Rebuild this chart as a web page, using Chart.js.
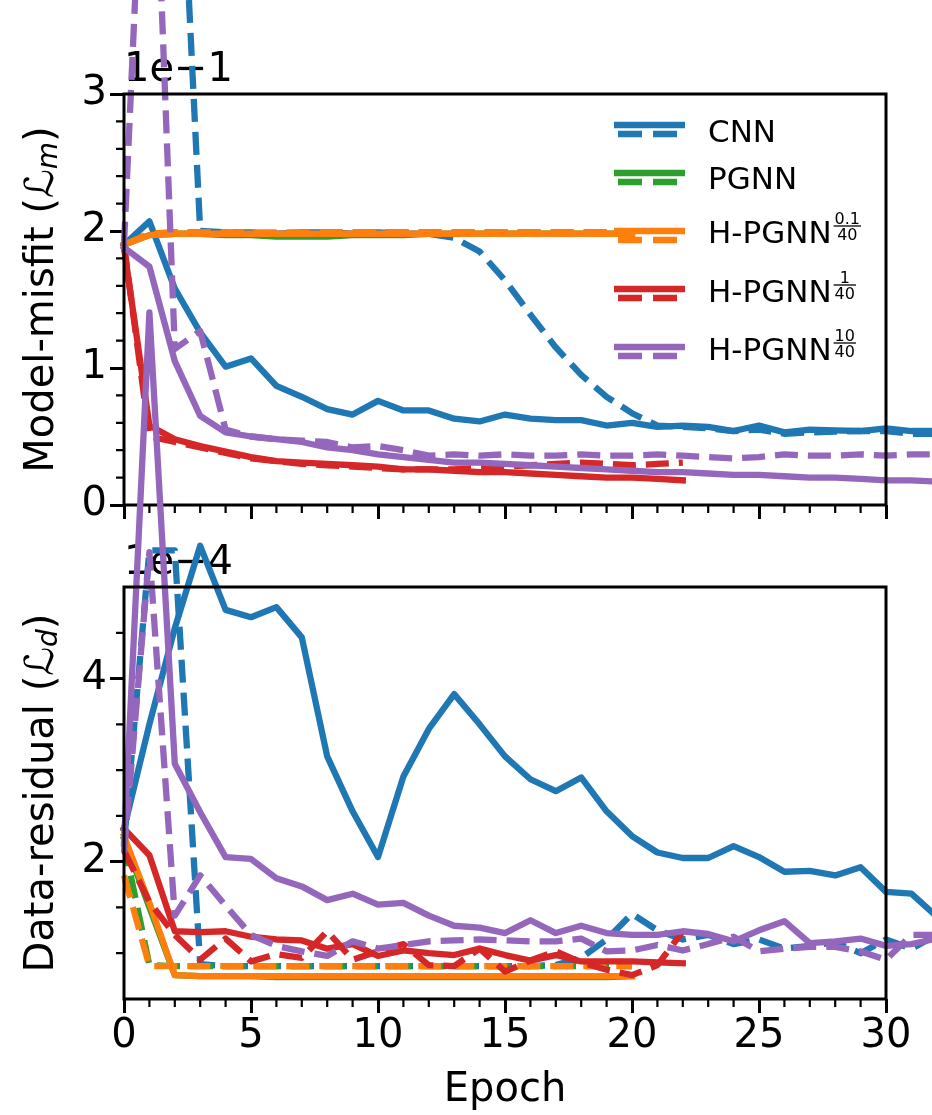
<!DOCTYPE html>
<html>
<head>
<meta charset="utf-8">
<script src="https://cdn.jsdelivr.net/npm/chart.js@4.4.1/dist/chart.umd.min.js"></script>
<style>
  html, body { margin: 0; padding: 0; background: #fff; }
  #wrap { position: relative; width: 932px; height: 1115px; overflow: hidden; }
  #wrap canvas { position: absolute; left: 0; top: 0; }
</style>
</head>
<body>
<div id="wrap">
  <canvas id="misfitChart" width="932" height="1115"></canvas>
  <canvas id="residualChart" width="932" height="1115"></canvas>
</div>
<script>
// epochs shared by both panels
const epochs = [0, 1, 2, 3, 4, 5, 6, 7, 8, 9, 10, 11, 12, 13, 14, 15, 16, 17, 18, 19, 20,
                21, 22, 23, 24, 25, 26, 27, 28, 29, 30, 31, 32];
const epochRange = [0, 30];
const epochTicks = [0, 5, 10, 15, 20, 25, 30];

// model-misfit (x 1e-1), solid and dashed curves
const cnnMisfit = [1.90, 2.07, 1.58, 1.26, 1.01, 1.07, 0.87, 0.79, 0.70, 0.66, 0.76, 0.69, 0.69, 0.63, 0.61, 0.66, 0.63,
                   0.62, 0.62, 0.58, 0.60, 0.57, 0.58, 0.57, 0.54, 0.58, 0.53, 0.55, 0.545, 0.54, 0.56, 0.54, 0.54];
const cnnMisfitDashed = [7.0, 6.4, 5.8, 2.00, 1.99, 1.99, 1.98, 1.99, 1.99, 1.98, 1.99, 1.98, 1.98, 1.95, 1.85, 1.64, 1.39,
                         1.15, 0.95, 0.79, 0.67, 0.58, 0.57, 0.56, 0.54, 0.55, 0.52, 0.53, 0.535, 0.54, 0.54, 0.52, 0.52];
const pgnnMisfit = [1.90, 1.97, 1.98, 1.98, 1.97, 1.97, 1.96, 1.96, 1.96, 1.97, 1.97, 1.97, 1.98, 1.98, 1.98, 1.98, 1.98,
                    1.98, 1.98, 1.98, 1.98];
const pgnnMisfitDashed = [1.90, 1.98, 1.99, 1.99, 1.99, 1.98, 1.98, 1.99, 1.99, 1.99, 1.99, 1.99, 1.99, 1.99, 1.99, 1.99,
                          1.99, 1.99, 1.99, 1.99, 1.99];
const hp01Misfit = [1.90, 1.97, 1.98, 1.98, 1.98, 1.98, 1.98, 1.98, 1.98, 1.98, 1.98, 1.98, 1.98, 1.98, 1.98, 1.98, 1.98,
                    1.98, 1.98, 1.98, 1.98];
const hp01MisfitDashed = [1.90, 1.98, 1.99, 1.99, 1.99, 1.99, 1.99, 1.99, 1.99, 1.99, 1.99, 1.99, 1.99, 1.99, 1.99, 1.99,
                          1.99, 1.99, 1.99, 1.99, 1.99];
const hp1Misfit = [1.88, 0.58, 0.48, 0.43, 0.39, 0.35, 0.32, 0.31, 0.30, 0.29, 0.28, 0.26, 0.26, 0.25, 0.24, 0.24, 0.23,
                   0.22, 0.21, 0.20, 0.20, 0.19, 0.18];
const hp1MisfitDashed = [1.90, 0.50, 0.46, 0.42, 0.38, 0.34, 0.32, 0.30, 0.29, 0.28, 0.27, 0.26, 0.26, 0.26, 0.27, 0.28,
                         0.29, 0.30, 0.31, 0.30, 0.29, 0.30, 0.31];
const hp10Misfit = [1.88, 1.74, 1.05, 0.65, 0.53, 0.50, 0.48, 0.46, 0.42, 0.40, 0.37, 0.35, 0.33, 0.31, 0.31, 0.30, 0.29,
                    0.28, 0.27, 0.26, 0.25, 0.24, 0.24, 0.23, 0.22, 0.22, 0.21, 0.20, 0.20, 0.19, 0.18, 0.18, 0.17];
const hp10MisfitDashed = [1.90, 6.0, 1.14, 1.27, 0.55, 0.50, 0.48, 0.47, 0.46, 0.42, 0.43, 0.40, 0.36, 0.37, 0.36, 0.37,
                          0.36, 0.36, 0.37, 0.36, 0.36, 0.37, 0.36, 0.35, 0.34, 0.35, 0.37, 0.36, 0.36, 0.37, 0.36, 0.37, 0.37];

// data-residual (x 1e-4), solid and dashed curves
const cnnResidual = [2.36, 3.5, 4.55, 5.45, 4.75, 4.67, 4.78, 4.45, 3.15, 2.55, 2.05, 2.93, 3.45, 3.83, 3.5, 3.15, 2.9,
                     2.77, 2.92, 2.55, 2.28, 2.1, 2.04, 2.04, 2.17, 2.05, 1.89, 1.9, 1.85, 1.94, 1.67, 1.65, 1.4];
const cnnResidualDashed = [2.2, 5.4, 5.4, 0.88, 0.86, 0.86, 0.86, 0.86, 0.86, 0.86, 0.86, 0.86, 0.86, 0.86, 0.86, 0.86,
                           0.86, 0.87, 0.95, 1.15, 1.43, 1.25, 1.15, 1.2, 1.1, 1.15, 1.05, 1.08, 1.12, 1.0, 1.15, 1.05, 1.2];
const pgnnResidual = [2.25, 1.5, 0.76, 0.75, 0.75, 0.75, 0.74, 0.74, 0.74, 0.74, 0.74, 0.74, 0.74, 0.74, 0.74, 0.74, 0.74,
                      0.74, 0.74, 0.74, 0.75];
const pgnnResidualDashed = [2.2, 0.87, 0.86, 0.86, 0.86, 0.86, 0.86, 0.86, 0.86, 0.86, 0.86, 0.86, 0.86, 0.86, 0.86, 0.86,
                            0.86, 0.86, 0.86, 0.86, 0.86];
const hp01Residual = [2.28, 1.55, 0.76, 0.75, 0.75, 0.75, 0.75, 0.75, 0.75, 0.75, 0.75, 0.75, 0.75, 0.75, 0.75, 0.75, 0.75,
                      0.75, 0.75, 0.75, 0.75];
const hp01ResidualDashed = [1.85, 0.86, 0.86, 0.86, 0.86, 0.86, 0.86, 0.86, 0.86, 0.86, 0.86, 0.86, 0.86, 0.86, 0.86, 0.86,
                            0.86, 0.86, 0.86, 0.86, 0.86];
const hp1Residual = [2.36, 2.07, 1.24, 1.23, 1.24, 1.18, 1.15, 1.14, 1.05, 1.1, 0.97, 1.03, 1.0, 0.98, 1.05, 0.98, 0.92,
                     0.98, 0.91, 0.91, 0.91, 0.9, 0.89];
const hp1ResidualDashed = [2.12, 1.56, 1.2, 0.93, 1.16, 0.91, 0.99, 0.95, 1.24, 0.93, 1.02, 1.1, 0.87, 0.86, 1.05, 0.8,
                           0.92, 1.02, 0.9, 0.82, 0.76, 0.87, 1.24];
const hp10Residual = [2.2, 8.0, 3.07, 2.54, 2.05, 2.03, 1.82, 1.73, 1.58, 1.65, 1.53, 1.55, 1.41, 1.3, 1.28, 1.22, 1.36,
                      1.22, 1.3, 1.22, 1.2, 1.2, 1.24, 1.21, 1.13, 1.25, 1.35, 1.11, 1.13, 1.16, 1.08, 1.1, 1.16];
const hp10ResidualDashed = [2.1, 5.38, 1.41, 1.85, 1.52, 1.2, 1.08, 1.02, 0.97, 1.13, 1.05, 1.09, 1.13, 1.14, 1.15, 1.14,
                            1.13, 1.13, 1.16, 1.02, 1.03, 1.09, 1.03, 1.1, 1.18, 1.02, 1.05, 1.07, 1.07, 1.02, 0.93, 1.2, 1.2];

// axis ticks
const misfitTicks = [0, 1, 2, 3];
const misfitMinorTicks = [0.2, 0.4, 0.6, 0.8, 1.2, 1.4, 1.6, 1.8, 2.2, 2.4, 2.6, 2.8];
const residualTicks = [2, 4];
const residualMinorTicks = [1, 1.5, 2.5, 3, 3.5, 4.5];

// legend
const modelNames = ['CNN', 'PGNN', 'H-PGNN', 'H-PGNN', 'H-PGNN'];
const modelFractions = [null, null, ['0.1', '40'], ['1', '40'], ['10', '40']];
const modelColors = ['#1f77b4', '#2ca02c', '#ff7f0e', '#d62728', '#9467bd'];

const FONT = "'DejaVu Sans', sans-serif";
const LINE_W = 6.3;
const DASH = [23, 10];

function buildDatasets(solid, dashed) {
    const out = [];
    solid.forEach((vals, m) => {
        [vals, dashed[m]].forEach((series, k) => {
            out.push({
                data: series.map((v, i) => ({ x: epochs[i], y: v })),
                borderColor: modelColors[m],
                borderWidth: LINE_W,
                borderDash: k ? DASH : [],
                borderCapStyle: k ? 'butt' : 'square',
                borderJoinStyle: 'round',
                pointRadius: 0,
                tension: 0,
                fill: false,
                clip: false
            });
        });
    });
    // later series drawn on top
    out.forEach((ds, i) => { ds.order = out.length - i; });
    return out;
}

function tickGrid() {
    return { drawOnChartArea: false, drawTicks: true, tickLength: 14, tickWidth: 3, tickColor: '#000' };
}

function xScale(withLabels, boxHeight) {
    return {
        type: 'linear',
        bounds: 'data',
        afterDataLimits: s => { s.min = epochRange[0]; s.max = epochRange[1]; },
        afterBuildTicks: s => { s.ticks = epochTicks.map(v => ({ value: v })); },
        afterFit: s => { s.height = boxHeight; },
        grid: tickGrid(),
        border: { display: false },
        ticks: {
            color: '#000', font: { family: FONT, size: 40 }, padding: 0,
            maxRotation: 0, autoSkip: false,
            callback: v => withLabels ? String(v) : ''
        },
        title: {
            display: withLabels, text: 'Epoch', color: '#000',
            font: { family: FONT, size: 40 }, padding: 0
        }
    };
}

function yScale(min, max, ticks) {
    return {
        type: 'linear',
        min: min,
        max: max,
        afterBuildTicks: s => { s.ticks = ticks.map(v => ({ value: v })); },
        afterFit: s => { s.width = 124; },
        grid: tickGrid(),
        border: { display: false },
        ticks: { color: '#000', font: { family: FONT, size: 40 }, padding: 3, callback: v => String(v) }
    };
}

function drawMathTitle(ctx, parts, x, y) {
    const fonts = { normal: `40px ${FONT}`, sub: `italic 28px ${FONT}` };
    ctx.save();
    ctx.translate(x, y);
    ctx.rotate(-Math.PI / 2);
    ctx.textBaseline = 'alphabetic';
    ctx.textAlign = 'left';
    ctx.fillStyle = '#000';
    let total = 0;
    parts.forEach(([t, kind]) => { ctx.font = fonts[kind]; total += ctx.measureText(t).width; });
    let cx = -total / 2;
    parts.forEach(([t, kind]) => {
        ctx.font = fonts[kind];
        ctx.fillText(t, cx, kind === 'sub' ? 4 : 0);
        cx += ctx.measureText(t).width;
    });
    ctx.restore();
}

function drawLegend(ctx, area) {
    const x0 = area.right - 272, x1 = area.right - 201, textX = area.right - 178;
    const handleY = [35.5, 83.5, 141.5, 199.5, 257.5];
    const textY = [48, 95, 149, 208, 266];
    ctx.save();
    modelNames.forEach((name, m) => {
        const hy = area.top + handleY[m];
        ctx.strokeStyle = modelColors[m];
        ctx.lineWidth = LINE_W;
        ctx.lineCap = 'butt';
        ctx.setLineDash([]);
        ctx.beginPath(); ctx.moveTo(x0, hy - 4.5); ctx.lineTo(x1, hy - 4.5); ctx.stroke();
        ctx.setLineDash([24, 11]);
        ctx.beginPath(); ctx.moveTo(x0 + 4, hy + 4.5); ctx.lineTo(x1, hy + 4.5); ctx.stroke();
        ctx.setLineDash([]);

        const ty = area.top + textY[m];
        ctx.fillStyle = '#000';
        ctx.font = `31px ${FONT}`;
        ctx.textBaseline = 'alphabetic';
        ctx.textAlign = 'left';
        ctx.fillText(name, textX, ty);
        const frac = modelFractions[m];
        if (frac) {
            const fx = textX + ctx.measureText(name).width + 2;
            ctx.font = `16px ${FONT}`;
            const wn = ctx.measureText(frac[0]).width, wd = ctx.measureText(frac[1]).width;
            const w = Math.max(wn, wd) + 2;
            const barY = ty - 17;
            ctx.fillText(frac[0], fx + (w - wn) / 2, barY - 2.5);
            ctx.fillText(frac[1], fx + (w - wd) / 2, barY + 14);
            ctx.strokeStyle = '#000';
            ctx.lineWidth = 1.3;
            ctx.beginPath(); ctx.moveTo(fx, barY); ctx.lineTo(fx + w, barY); ctx.stroke();
        }
    });
    ctx.restore();
}

const panelDecor = {
    id: 'panelDecor',
    beforeDatasetsDraw(chart, args, opts) {
        const { ctx, chartArea } = chart;
        ctx.save();
        ctx.fillStyle = '#000';
        ctx.font = `40px ${FONT}`;
        ctx.textBaseline = 'alphabetic';
        ctx.textAlign = 'left';
        ctx.fillText(opts.offsetText, chartArea.left, chartArea.top - 13);
        ctx.restore();
        drawMathTitle(ctx, opts.title, 53, (chartArea.top + chartArea.bottom) / 2);
    },
    afterDatasetsDraw(chart, args, opts) {
        const { ctx, chartArea, scales } = chart;
        ctx.save();
        ctx.strokeStyle = '#000';
        // minor ticks
        ctx.lineWidth = 2.2;
        ctx.beginPath();
        for (let e = epochRange[0]; e <= epochRange[1]; e++) {
            if (epochTicks.includes(e)) continue;
            const px = scales.x.getPixelForValue(e);
            ctx.moveTo(px, chartArea.bottom);
            ctx.lineTo(px, chartArea.bottom + 8);
        }
        opts.minorTicks.forEach(v => {
            const py = scales.y.getPixelForValue(v);
            ctx.moveTo(chartArea.left, py);
            ctx.lineTo(chartArea.left - 8, py);
        });
        ctx.stroke();
        // frame
        ctx.lineWidth = 3;
        ctx.strokeRect(chartArea.left, chartArea.top, chartArea.right - chartArea.left, chartArea.bottom - chartArea.top);
        ctx.restore();
        if (opts.legend) drawLegend(ctx, chartArea);
    }
};

function makeChart(id, datasets, yOpts, xOpts, padding, decor) {
    return new Chart(document.getElementById(id), {
        type: 'line',
        data: { datasets: datasets },
        options: {
            responsive: false,
            animation: false,
            devicePixelRatio: 1,
            layout: { padding: padding },
            plugins: { legend: { display: false }, tooltip: { enabled: false }, panelDecor: decor },
            scales: { x: xOpts, y: yOpts }
        },
        plugins: [panelDecor]
    });
}

makeChart('misfitChart',
    buildDatasets([cnnMisfit, pgnnMisfit, hp01Misfit, hp1Misfit, hp10Misfit],
                  [cnnMisfitDashed, pgnnMisfitDashed, hp01MisfitDashed, hp1MisfitDashed, hp10MisfitDashed]),
    yScale(0, 3, misfitTicks),
    xScale(false, 20),
    { top: 94, right: 46, bottom: 590, left: 0 },
    { offsetText: '1e\u22121', title: [['Model-misfit (', 'normal'], ['\u2112', 'normal'], ['m', 'sub'], [')', 'normal']],
      minorTicks: misfitMinorTicks, legend: true });

makeChart('residualChart',
    buildDatasets([cnnResidual, pgnnResidual, hp01Residual, hp1Residual, hp10Residual],
                  [cnnResidualDashed, pgnnResidualDashed, hp01ResidualDashed, hp1ResidualDashed, hp10ResidualDashed]),
    yScale(0.5, 5, residualTicks),
    xScale(true, 116),
    { top: 587, right: 46, bottom: 0, left: 0 },
    { offsetText: '1e\u22124', title: [['Data-residual (', 'normal'], ['\u2112', 'normal'], ['d', 'sub'], [')', 'normal']],
      minorTicks: residualMinorTicks, legend: false });
</script>
</body>
</html>
